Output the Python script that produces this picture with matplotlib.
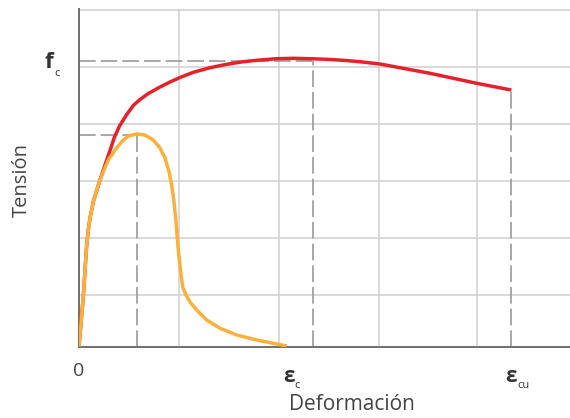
import matplotlib
matplotlib.use("Agg")
from matplotlib import pyplot as plt

plt.rcParams['font.family'] = ['Open Sans', 'DejaVu Sans']

# curves, units = px from the origin (x right, y up)
rojo_x = [0, 2, 4.3, 6, 7.7, 9.3, 11, 14.3, 21, 26, 31, 35.3, 40.5, 47.7, 54.3, 61, 69.3, 81, 91, 101,
          114.3, 131, 147.7, 164.3, 181, 197.7, 214.3, 231, 247.7, 264.3, 281, 301, 351, 397.7, 432.3]
rojo_y = [0.3, 24, 50.3, 77, 102, 117, 129, 145.3, 167, 182, 196.5, 209.5, 221, 232.5, 241.5, 247.5, 253.5, 260, 265, 269.5,
          274.7, 279.3, 282.7, 285.3, 287, 288.3, 288.7, 288.3, 287.7, 286.7, 285.3, 283, 273.7, 263.7, 257]

naranja_x = [0, 2, 4.3, 6, 7.7, 9.3, 11, 14.3, 19.3, 24.3, 29.3, 36, 42.7, 49.3, 57.7, 66, 74.3, 81, 86, 90,
             92.7, 95, 97, 98.5, 99.3, 102, 104, 107, 111, 117.7, 127.7, 141, 157.7, 177.7, 207.7]
naranja_y = [0.3, 24, 50.3, 77, 102, 117, 129, 145.3, 162, 175.3, 187, 197, 205.3, 211, 213, 212, 207, 199, 189, 175.3,
             162, 145.3, 125.3, 107, 97, 72, 59, 52, 45, 37, 27, 18.7, 12, 7, 1]

fc = 286.5
eps_c = 234.5
pico_x, pico_y = 58, 212
eps_cu, sig_cu = 432.3, 257

grid_x = [100, 200, 300, 398]
grid_y = [52, 109, 166, 223, 280, 337]

fig = plt.figure(figsize=(5.7, 4.18), dpi=100)
ax = fig.add_axes([79 / 570, 71 / 418, 491 / 570, 338 / 418])
ax.set_xlim(0, 491)
ax.set_ylim(0, 338)

for g in grid_x:
    ax.axvline(g, color='#cfcfcf', lw=1.1, zorder=1)
for g in grid_y:
    ax.axhline(g, color='#cfcfcf', lw=1.1, zorder=1)

dash = dict(color='#9a9a9a', lw=1.2, dashes=(10, 3), zorder=2)
ax.plot([0, eps_c], [fc, fc], **dash)
ax.plot([eps_c, eps_c], [0, fc], **dash)
ax.plot([0, pico_x], [pico_y, pico_y], **dash)
ax.plot([pico_x, pico_x], [0, pico_y], **dash)
ax.plot([eps_cu, eps_cu], [0, sig_cu], **dash)

ax.plot(rojo_x, rojo_y, color='#e8202a', lw=2.5, zorder=3, solid_capstyle='butt', solid_joinstyle='round')
ax.plot(naranja_x, naranja_y, color='#fbb03b', lw=2.5, zorder=4, solid_capstyle='butt', solid_joinstyle='round')

for s in ['top', 'right']:
    ax.spines[s].set_visible(False)
for s in ['left', 'bottom']:
    ax.spines[s].set_color('#707070')
    ax.spines[s].set_linewidth(1.4)
ax.set_xticks([])
ax.set_yticks([])


def px(x, y):
    return x / 570, 1 - y / 418


col = '#333333'
fig.text(*px(49, 62), 'f', fontsize=16, fontweight='bold', color=col, ha='center', va='center')
fig.text(*px(57, 73), 'c', fontsize=8, color=col, ha='center', va='center')
fig.text(*px(79, 371), '0', fontsize=14, color='#444444', ha='center', va='center')
fig.text(*px(289, 377), 'ε', fontsize=15, fontweight='bold', color=col, ha='center', va='center')
fig.text(*px(297, 385), 'c', fontsize=8, color=col, ha='center', va='center')
fig.text(*px(511, 377), 'ε', fontsize=15, fontweight='bold', color=col, ha='center', va='center')
fig.text(*px(523, 385), 'cu', fontsize=8, color=col, ha='center', va='center')
fig.text(*px(22, 180), 'Tensión', fontsize=14.5, color='#444444', rotation=90, ha='center', va='center')
fig.text(*px(352, 405), 'Deformación', fontsize=15, color='#444444', ha='center', va='center')

plt.savefig('out.png', dpi=100)
